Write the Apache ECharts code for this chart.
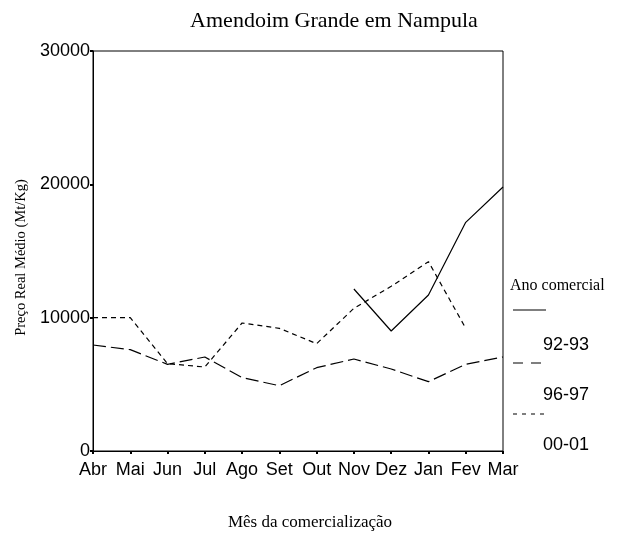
<!DOCTYPE html>
<html>
<head>
<meta charset="utf-8">
<script src="https://cdn.jsdelivr.net/npm/echarts@6/dist/echarts.min.js"></script>
<style>
  html, body { margin: 0; padding: 0; background: #fff; }
  #main { width: 620px; height: 536px; }
</style>
</head>
<body>
<div id="main"></div>
<script>
// meses da comercialização
const months = ['Abr', 'Mai', 'Jun', 'Jul', 'Ago', 'Set', 'Out', 'Nov', 'Dez', 'Jan', 'Fev', 'Mar'];

// preço real médio (Mt/Kg) por ano comercial
const s9293 = [null, null, null, null, null, null, null, 12150, 9000, 11700, 17150, 19800];
const s9697 = [7950, 7600, 6500, 7050, 5500, 4900, 6250, 6900, 6150, 5200, 6500, 7050];
const s0001 = [10000, 10000, 6550, 6300, 9600, 9200, 8050, 10700, 12350, 14200, 9200, null];

const seriesNames = ['92-93', '96-97', '00-01'];
const yTicks = [0, 10000, 20000, 30000];

const serif = 'Liberation Serif';
const sans = 'Liberation Sans';

let option = {
  animation: false,
  backgroundColor: '#fff',
  title: {
    text: 'Amendoim Grande em Nampula',
    left: 329,
    textAlign: 'center',
    top: 5,
    textStyle: { fontFamily: serif, fontSize: 22, fontWeight: 'normal', color: '#000' }
  },
  grid: {
    left: 93,
    right: 117,
    top: 51,
    bottom: 83,
    show: true,
    borderColor: '#000',
    borderWidth: 1
  },
  xAxis: {
    type: 'category',
    data: months,
    boundaryGap: false,
    name: 'Mês da comercialização',
    nameLocation: 'middle',
    nameGap: 63,
    nameTextStyle: { fontFamily: serif, fontSize: 17, color: '#000', padding: [0, 0, 0, 24] },
    axisLine: { lineStyle: { color: '#000', width: 1 } },
    axisTick: { show: true, length: 3, lineStyle: { color: '#000', width: 2 } },
    axisLabel: { fontFamily: sans, fontSize: 18, color: '#000', margin: 10, interval: 0 },
    splitLine: { show: false }
  },
  yAxis: {
    type: 'value',
    min: yTicks[0],
    max: yTicks[yTicks.length - 1],
    interval: 10000,
    name: 'Preço Real Médio (Mt/Kg)',
    nameLocation: 'middle',
    nameGap: 55,
    nameTextStyle: { fontFamily: serif, fontSize: 14.5, color: '#000', padding: [0, 13, 0, 0] },
    axisLine: { show: true, lineStyle: { color: '#000', width: 1 } },
    axisTick: { show: true, length: 3, lineStyle: { color: '#000', width: 2 } },
    axisLabel: { fontFamily: sans, fontSize: 18, color: '#000', margin: 3, formatter: v => String(v) },
    splitLine: { show: false }
  },
  series: [
    {
      name: seriesNames[0],
      type: 'line',
      data: s9293,
      symbol: 'none',
      connectNulls: false,
      lineStyle: { color: '#000', width: 1.2, type: 'solid' }
    },
    {
      name: seriesNames[1],
      type: 'line',
      data: s9697,
      symbol: 'none',
      lineStyle: { color: '#000', width: 1.2, type: [13, 5] }
    },
    {
      name: seriesNames[2],
      type: 'line',
      data: s0001,
      symbol: 'none',
      lineStyle: { color: '#000', width: 1.2, type: [5, 4] }
    }
  ],
  graphic: [
    { type: 'text', x: 510, y: 286, style: { text: 'Ano comercial', font: '16px "Liberation Serif"', fill: '#000', verticalAlign: 'middle' } },
    { type: 'line', shape: { x1: 513, y1: 310, x2: 546, y2: 310 }, style: { stroke: '#000', lineWidth: 1.2 } },
    { type: 'text', x: 543, y: 345, style: { text: seriesNames[0], font: '18px "Liberation Sans"', fill: '#000', verticalAlign: 'middle' } },
    { type: 'line', shape: { x1: 513, y1: 363, x2: 545, y2: 363 }, style: { stroke: '#000', lineWidth: 1.2, lineDash: [10, 8] } },
    { type: 'text', x: 543, y: 395, style: { text: seriesNames[1], font: '18px "Liberation Sans"', fill: '#000', verticalAlign: 'middle' } },
    { type: 'line', shape: { x1: 513, y1: 414, x2: 545, y2: 414 }, style: { stroke: '#000', lineWidth: 1.2, lineDash: [4, 5] } },
    { type: 'text', x: 543, y: 445, style: { text: seriesNames[2], font: '18px "Liberation Sans"', fill: '#000', verticalAlign: 'middle' } }
  ]
};

let myChart = echarts.init(document.getElementById('main'));
myChart.setOption(option);
</script>
</body>
</html>
